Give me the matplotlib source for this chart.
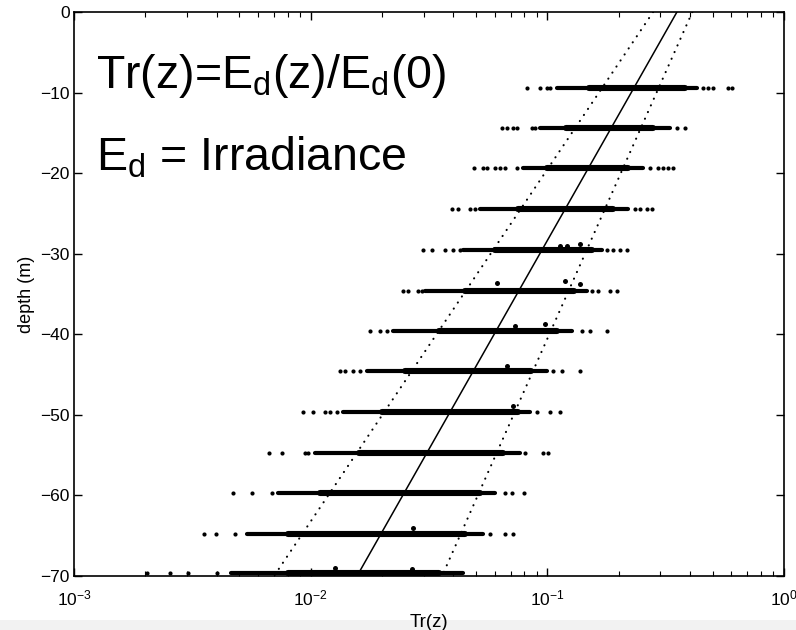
import matplotlib
matplotlib.use("Agg")
import matplotlib.pyplot as plt
from matplotlib.patches import Rectangle

plt.rcParams['font.family'] = ['Liberation Sans', 'DejaVu Sans']
plt.rcParams['mathtext.fontset'] = 'custom'
plt.rcParams['mathtext.rm'] = 'Liberation Sans'
plt.rcParams['mathtext.it'] = 'Liberation Sans:italic'
plt.rcParams['mathtext.bf'] = 'Liberation Sans:bold'

# depth of each profile sample group (m)
depths = [-9.4, -14.4, -19.4, -24.4, -29.5, -34.6, -39.6,
          -44.6, -49.7, -54.7, -59.7, -64.8, -69.6]

# dense part of each group (Tr range)
core_lo = [0.110, 0.0931, 0.0789, 0.0519, 0.0440, 0.0304, 0.0223,
           0.0173, 0.0137, 0.0104, 0.0073, 0.0054, 0.0046]
core_hi = [0.428, 0.330, 0.2535, 0.219, 0.170, 0.147, 0.127,
           0.0996, 0.0845, 0.0766, 0.0601, 0.0535, 0.0440]
inner_lo = [0.15, 0.12, 0.10, 0.075, 0.06, 0.045, 0.035,
            0.025, 0.020, 0.016, 0.011, 0.008, 0.008]
inner_hi = [0.38, 0.28, 0.22, 0.19, 0.155, 0.13, 0.11,
            0.085, 0.075, 0.065, 0.052, 0.045, 0.035]

# isolated points at both ends of each group
outliers = [
    [0.0820, 0.0931, 0.0996, 0.1026, 0.454, 0.476, 0.501, 0.579, 0.603],
    [0.0643, 0.0675, 0.0716, 0.0745, 0.0861, 0.0887, 0.353, 0.381],
    [0.0490, 0.0535, 0.0556, 0.0601, 0.0631, 0.0662, 0.0745, 0.271, 0.293, 0.308, 0.323, 0.340],
    [0.0395, 0.0419, 0.0471, 0.0494, 0.234, 0.246, 0.264, 0.277],
    [0.0298, 0.0325, 0.0369, 0.0399, 0.0427, 0.1786, 0.189, 0.203, 0.217],
    [0.0245, 0.0258, 0.0284, 0.0295, 0.154, 0.164, 0.184, 0.197],
    [0.0178, 0.0196, 0.0210, 0.140, 0.151, 0.1786],
    [0.0133, 0.0140, 0.0151, 0.0162, 0.1057, 0.1153, 0.137],
    [0.00928, 0.0102, 0.0115, 0.0121, 0.0129, 0.0904, 0.1026, 0.113],
    [0.00667, 0.00757, 0.00946, 0.00974, 0.0804, 0.0958, 0.1006],
    [0.00470, 0.00565, 0.00686, 0.0662, 0.0708, 0.0796],
    [0.00354, 0.00398, 0.00479, 0.0572, 0.0662, 0.0716],
    [0.00203, 0.00255, 0.00303, 0.00402],
]

# stray points sitting just above the groups
stray_tr = [0.113, 0.121, 0.137, 0.0612, 0.119, 0.137, 0.0730, 0.0977,
            0.0675, 0.0716, 0.0127, 0.0268, 0.0270]
stray_z = [-29.0, -29.0, -28.8, -33.6, -33.4, -33.7, -39.0, -38.7,
           -43.9, -48.9, -69.0, -69.1, -64.1]

# exponential fit and its bounds (end points at 0 m and -70 m)
fit_z = [0, -70]
fit_tr = [0.353, 0.0157]
lower_tr = [0.280, 0.0070]
upper_tr = [0.410, 0.0359]

fig = plt.figure(figsize=(7.96, 6.30), dpi=100)
ax = fig.add_axes([0.0930, 0.0857, 0.8919, 0.8953])

for z, lo, hi, ilo, ihi, pts in zip(depths, core_lo, core_hi, inner_lo, inner_hi, outliers):
    ax.plot([lo, hi], [z, z], color='black', lw=3.0, solid_capstyle='round')
    ax.plot([ilo, ihi], [z, z], color='black', lw=4.4, solid_capstyle='round')
    ax.plot(pts, [z] * len(pts), 'o', color='black', ms=3.0, mec='none')

ax.plot(stray_tr, stray_z, 'o', color='black', ms=3.6, mec='none')

ax.plot(fit_tr, fit_z, color='black', lw=1.1)
ax.plot(lower_tr, fit_z, color='black', lw=1.5, linestyle=(0, (0.1, 3.4)),
        dash_capstyle='round')
ax.plot(upper_tr, fit_z, color='black', lw=1.5, linestyle=(0, (0.1, 3.4)),
        dash_capstyle='round')

ax.set_xscale('log')
ax.set_xlim(1e-3, 1)
ax.set_ylim(-70, 0)
ax.set_yticks([-70, -60, -50, -40, -30, -20, -10, 0])
ax.set_yticklabels(['\u221270', '\u221260', '\u221250', '\u221240',
                    '\u221230', '\u221220', '\u221210', '0'])
ax.tick_params(which='both', direction='in', top=True, right=True, labelsize=12.5)
ax.tick_params(which='major', length=6, width=1)
ax.tick_params(which='minor', length=3.5, width=0.8)
ax.tick_params(axis='x', which='both', pad=9)
ax.tick_params(axis='y', which='both', pad=3)
for s in ax.spines.values():
    s.set_linewidth(1.2)

ax.set_xlabel('Tr(z)', fontsize=13.5, labelpad=4)
ax.set_ylabel('depth (m)', fontsize=13, labelpad=4)

ax.text(0.031, 0.866, r'Tr(z)=E$_{\rm d}$(z)/E$_{\rm d}$(0)', transform=ax.transAxes,
        fontsize=33.5, va='baseline', ha='left')
ax.text(0.031, 0.719, r'E$_{\rm d}$ = Irradiance', transform=ax.transAxes,
        fontsize=33.5, va='baseline', ha='left')

fig.patches.append(Rectangle((0, 0), 1, 10 / 630, transform=fig.transFigure,
                             facecolor='#f2f2f2', edgecolor='none', zorder=-1))

fig.savefig('out.png', dpi=100)
